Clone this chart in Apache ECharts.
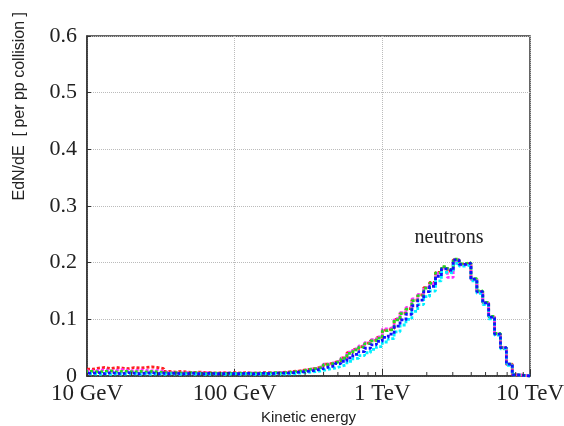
<!DOCTYPE html>
<html>
<head>
<meta charset="utf-8">
<script src="https://cdn.jsdelivr.net/npm/echarts@6/dist/echarts.min.js"></script>
<style>
  html, body { margin: 0; padding: 0; background: #fff; }
  #charts { width: 564px; height: 426px; }
</style>
</head>
<body>
<div id="charts"></div>
<script>
// log bins, 25 per decade from 10 GeV to 10 TeV
var binsPerDecade = 25;
var decades = 3;
var xTickLabels = { 10: "10 GeV", 100: "100 GeV", 1000: "1 TeV", 10000: "10 TeV" };
var minorTickValues = [20, 30, 40, 50, 60, 70, 80, 90, 200, 300, 400, 500, 600, 700, 800, 900, 2000, 3000, 4000, 5000, 6000, 7000, 8000, 9000];

var redVals = [
  0.012, 0.014, 0.015, 0.013, 0.015, 0.014, 0.013, 0.015, 0.014, 0.015, 0.016, 0.015, 0.013,
  0.008, 0.007, 0.008, 0.007, 0.006, 0.007, 0.006, 0.006, 0.005, 0.006, 0.005, 0.006,
  0.005, 0.006, 0.005, 0.005, 0.006, 0.006, 0.005, 0.006, 0.007, 0.008,
  0.009, 0.011, 0.012, 0.014, 0.017, 0.021, 0.024, 0.027, 0.032, 0.041, 0.047, 0.052, 0.058, 0.063, 0.068,
  0.081, 0.084, 0.100, 0.111, 0.119, 0.134, 0.143, 0.156, 0.165, 0.183, 0.192, 0.185, 0.205, 0.197, 0.199,
  0.171, 0.149, 0.129, 0.104, 0.074, 0.049, 0.021, 0.002, 0.001, 0.000
];
var magentaVals = [
  0.009, 0.010, 0.011, 0.009, 0.010, 0.011, 0.010, 0.009, 0.011, 0.010, 0.009, 0.010, 0.008,
  0.006, 0.006, 0.005, 0.006, 0.005, 0.005, 0.006, 0.005, 0.004, 0.005, 0.005, 0.004,
  0.005, 0.004, 0.005, 0.005, 0.004, 0.005, 0.005, 0.006, 0.006, 0.007,
  0.008, 0.010, 0.012, 0.014, 0.017, 0.021, 0.024, 0.027, 0.032, 0.042, 0.048, 0.053, 0.059, 0.064, 0.069,
  0.083, 0.086, 0.101, 0.112, 0.121, 0.136, 0.144, 0.156, 0.163, 0.181, 0.190, 0.174, 0.204, 0.196, 0.198,
  0.170, 0.148, 0.129, 0.104, 0.074, 0.050, 0.020, 0.002, 0.001, 0.000
];
var greenVals = [
  0.008, 0.007, 0.008, 0.009, 0.007, 0.008, 0.008, 0.007, 0.008, 0.007, 0.008, 0.007, 0.006,
  0.005, 0.006, 0.005, 0.005, 0.006, 0.005, 0.004, 0.005, 0.005, 0.004, 0.005, 0.004,
  0.005, 0.004, 0.005, 0.005, 0.004, 0.005, 0.006, 0.005, 0.006, 0.007,
  0.008, 0.010, 0.012, 0.013, 0.016, 0.020, 0.023, 0.026, 0.031, 0.040, 0.046, 0.051, 0.057, 0.062, 0.067,
  0.080, 0.083, 0.099, 0.110, 0.118, 0.133, 0.142, 0.155, 0.164, 0.182, 0.193, 0.188, 0.206, 0.198, 0.200,
  0.172, 0.150, 0.130, 0.105, 0.075, 0.050, 0.021, 0.002, 0.001, 0.000
];
var cyanVals = [
  0.004, 0.003, 0.004, 0.003, 0.004, 0.003, 0.004, 0.004, 0.003, 0.004, 0.003, 0.004, 0.003,
  0.004, 0.003, 0.003, 0.004, 0.003, 0.004, 0.003, 0.003, 0.004, 0.003, 0.003, 0.004,
  0.003, 0.004, 0.003, 0.003, 0.004, 0.003, 0.004, 0.003, 0.004, 0.004,
  0.005, 0.006, 0.007, 0.008, 0.010, 0.012, 0.014, 0.017, 0.020, 0.026, 0.031, 0.036, 0.041, 0.047, 0.052,
  0.060, 0.066, 0.078, 0.090, 0.100, 0.114, 0.126, 0.140, 0.150, 0.168, 0.183, 0.182, 0.199, 0.194, 0.196,
  0.168, 0.146, 0.126, 0.101, 0.072, 0.048, 0.019, 0.002, 0.001, 0.000
];
var blueVals = [
  0.005, 0.006, 0.004, 0.006, 0.005, 0.004, 0.006, 0.005, 0.004, 0.005, 0.006, 0.004, 0.005,
  0.004, 0.005, 0.004, 0.004, 0.005, 0.004, 0.004, 0.005, 0.004, 0.004, 0.005, 0.004,
  0.004, 0.005, 0.004, 0.004, 0.005, 0.004, 0.005, 0.005, 0.005, 0.006,
  0.007, 0.008, 0.009, 0.011, 0.013, 0.016, 0.018, 0.022, 0.026, 0.032, 0.038, 0.043, 0.049, 0.055, 0.061,
  0.068, 0.074, 0.088, 0.099, 0.109, 0.124, 0.134, 0.149, 0.158, 0.176, 0.189, 0.186, 0.205, 0.197, 0.199,
  0.171, 0.149, 0.129, 0.104, 0.074, 0.050, 0.021, 0.002, 0.001, 0.000
];

var nBins = binsPerDecade * decades;
var edges = [];
for (var i = 0; i <= nBins; i++) {
  edges.push(Math.pow(10, 1 + i / binsPerDecade));
}
function histData(vals) {
  return edges.map(function (e, i) {
    return [e, vals[Math.min(i, vals.length - 1)]];
  });
}
function histSeries(name, vals, color, offset) {
  return {
    name: name,
    type: "line",
    step: "end",
    symbol: "none",
    data: histData(vals),
    lineStyle: { color: color, width: 2.8, type: [3, 2], dashOffset: offset },
    z: 3
  };
}

var chart = echarts.init(document.getElementById("charts"));
var series = [
  histSeries("red", redVals, "#ff2020", 0),
  histSeries("magenta", magentaVals, "#ff30ff", 1),
  histSeries("green", greenVals, "#20dd20", 2),
  histSeries("cyan", cyanVals, "#00f0ff", 3),
  histSeries("blue", blueVals, "#1010ff", 4),
  {
    // minor ticks of the log axis at 2..9 per decade
    type: "custom",
    silent: true,
    data: minorTickValues.map(function (v) { return [v, 0]; }),
    encode: { x: 0, y: 1 },
    renderItem: function (params, api) {
      var p = api.coord([api.value(0), 0]);
      return {
        type: "line",
        shape: { x1: p[0], y1: p[1], x2: p[0], y2: p[1] - 4 },
        style: { stroke: "#333", lineWidth: 1 }
      };
    },
    z: 5
  }
];
series[2].markPoint = {
  symbol: "circle",
  symbolSize: 0,
  data: [{ coord: [2830, 0.244] }],
  label: {
    show: true,
    position: "inside",
    formatter: "neutrons",
    fontFamily: "Liberation Serif",
    fontSize: 20,
    color: "#222"
  }
};

chart.setOption({
  animation: false,
  backgroundColor: "#fff",
  grid: {
    left: 87, right: 34, top: 36, bottom: 50,
    outerBoundsMode: "none",
    show: true, borderColor: "#333", borderWidth: 1.5, backgroundColor: "transparent"
  },
  xAxis: {
    type: "log",
    logBase: 10,
    min: 10,
    max: 10000,
    name: "Kinetic energy",
    nameLocation: "middle",
    nameGap: 31,
    nameTextStyle: { fontFamily: "Liberation Sans", fontSize: 15, color: "#222" },
    axisLine: { show: true, lineStyle: { color: "#333", width: 1.5 } },
    axisTick: { show: true, inside: true, length: 7, lineStyle: { color: "#333" } },
    axisLabel: {
      margin: 6,
      fontFamily: "Liberation Serif",
      fontSize: 23,
      color: "#222",
      formatter: function (v) { return xTickLabels[Math.round(v)] || ""; }
    },
    splitLine: { show: true, lineStyle: { color: "#bbb", type: "dotted", width: 1 } }
  },
  yAxis: {
    type: "value",
    min: 0,
    max: 0.6,
    interval: 0.1,
    axisLine: { show: true, lineStyle: { color: "#333", width: 1.5 } },
    axisTick: { show: true, inside: true, length: 4, lineStyle: { color: "#333" } },
    axisLabel: {
      margin: 10,
      fontFamily: "Liberation Serif",
      fontSize: 22,
      color: "#222"
    },
    splitLine: { show: true, lineStyle: { color: "#bbb", type: "dotted", width: 1 } }
  },
  graphic: [{
    type: "text",
    left: 12,
    top: 12,
    rotation: Math.PI / 2,
    style: {
      text: "EdN/dE  [ per pp collision ]",
      fontFamily: "Liberation Sans",
      fontSize: 16,
      fill: "#222"
    }
  }],
  series: series
});
</script>
</body>
</html>
